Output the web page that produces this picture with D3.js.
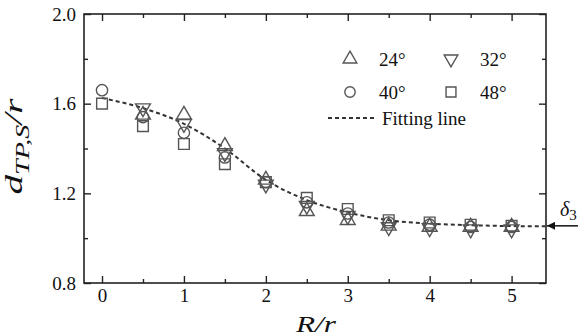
<!DOCTYPE html>
<html>
<head>
<meta charset="utf-8">
<script src="https://cdn.jsdelivr.net/npm/d3@7"></script>
<style>
  body { margin: 0; background: white; }
  text { font-family: "Liberation Serif", "Times New Roman", serif; fill: #111; }
</style>
</head>
<body>
<div id="chart"></div>
<script>
// R/r positions
let xs = [0, 0.5, 1, 1.5, 2, 2.5, 3, 3.5, 4, 4.5, 5];
// d_TP,S / r for each angle (null = no marker)
let s24 = [null, 1.55, 1.55, 1.41, 1.26, 1.12, 1.08, 1.055, 1.05, 1.05, 1.05];
let s32 = [null, 1.58, 1.51, 1.38, 1.24, 1.145, 1.10, 1.05, 1.045, 1.04, 1.04];
let s40 = [1.66, 1.54, 1.47, 1.36, 1.25, 1.16, 1.11, 1.07, 1.06, 1.05, 1.05];
let s48 = [1.60, 1.50, 1.42, 1.33, 1.25, 1.18, 1.13, 1.08, 1.07, 1.06, 1.055];
// fitting line
let fitX = [0, 0.5, 1, 1.5, 2, 2.5, 3, 3.5, 4, 4.5, 5, 5.42];
let fitY = [1.625, 1.58, 1.51, 1.40, 1.26, 1.17, 1.115, 1.08, 1.065, 1.058, 1.054, 1.053];
let delta3 = 1.055;

let xMajor = [0, 1, 2, 3, 4, 5];
let xMinor = [0.5, 1.5, 2.5, 3.5, 4.5];
let yMajor = [0.8, 1.2, 1.6, 2.0];
let yMinor = [1.0, 1.4, 1.8];

var margin = {top: 14, right: 32, bottom: 53, left: 84},
    width = 578 - margin.left - margin.right,
    height = 336 - margin.top - margin.bottom;

var svg = d3.select("#chart")
  .append("svg")
    .attr("width", 578)
    .attr("height", 336)
  .append("g")
    .attr("transform", "translate(" + margin.left + "," + margin.top + ")");

var x = d3.scaleLinear().domain([-0.22, 5.42]).range([0, width]);
var y = d3.scaleLinear().domain([0.8, 2.0]).range([height, 0]);

var axisColor = "#222";

// major + minor ticks on all four sides, pointing inward
function styleAxis(g) {
  g.select(".domain").remove();
  g.selectAll("line").attr("stroke", axisColor).attr("stroke-width", 1.4);
  g.selectAll("text").style("font-size", "19px").attr("fill", "#111");
}
svg.append("g").attr("transform", "translate(0," + height + ")")
  .call(d3.axisBottom(x).tickValues(xMajor).tickSize(-7).tickPadding(6).tickFormat(d3.format("d")))
  .call(styleAxis);
svg.append("g").attr("transform", "translate(0," + height + ")")
  .call(d3.axisBottom(x).tickValues(xMinor).tickSize(-4).tickFormat(""))
  .call(styleAxis);
svg.append("g")
  .call(d3.axisTop(x).tickValues(xMajor).tickSize(-7).tickFormat(""))
  .call(styleAxis);
svg.append("g")
  .call(d3.axisTop(x).tickValues(xMinor).tickSize(-4).tickFormat(""))
  .call(styleAxis);
svg.append("g")
  .call(d3.axisLeft(y).tickValues(yMajor).tickSize(-7).tickPadding(8).tickFormat(d3.format(".1f")))
  .call(styleAxis);
svg.append("g")
  .call(d3.axisLeft(y).tickValues(yMinor).tickSize(-4).tickFormat(""))
  .call(styleAxis);
svg.append("g").attr("transform", "translate(" + width + ",0)")
  .call(d3.axisRight(y).tickValues(yMajor).tickSize(-7).tickFormat(""))
  .call(styleAxis);
svg.append("g").attr("transform", "translate(" + width + ",0)")
  .call(d3.axisRight(y).tickValues(yMinor).tickSize(-4).tickFormat(""))
  .call(styleAxis);

svg.append("rect")
  .attr("width", width).attr("height", height)
  .attr("fill", "none").attr("stroke", axisColor).attr("stroke-width", 1.6);

// fitting line
var fitData = fitX.map(function(d, i) { return [d, fitY[i]]; });
svg.append("path")
  .datum(fitData)
  .attr("fill", "none")
  .attr("stroke", "#333")
  .attr("stroke-width", 2)
  .attr("stroke-dasharray", "4,3")
  .attr("d", d3.line()
    .x(function(d) { return x(d[0]); })
    .y(function(d) { return y(d[1]); })
    .curve(d3.curveMonotoneX));

// markers
var markColor = "#555";
var series = [
  {name: "24°", vals: s24, type: d3.symbolTriangle, size: 95, rot: 0},
  {name: "32°", vals: s32, type: d3.symbolTriangle, size: 95, rot: 180},
  {name: "40°", vals: s40, type: d3.symbolCircle, size: 100, rot: 0},
  {name: "48°", vals: s48, type: d3.symbolSquare, size: 115, rot: 0}
];
series.forEach(function(s) {
  var pts = xs.map(function(d, i) { return {x: d, v: s.vals[i]}; })
    .filter(function(d) { return d.v != null; });
  svg.selectAll(null)
    .data(pts)
    .enter()
    .append("path")
      .attr("d", d3.symbol().type(s.type).size(s.size))
      .attr("transform", function(d) {
        return "translate(" + x(d.x) + "," + y(d.v) + ") rotate(" + s.rot + ")";
      })
      .attr("fill", "none")
      .attr("stroke", markColor)
      .attr("stroke-width", 1.4);
});

// legend
var legPos = [[266, 45], [367, 45], [266, 78], [367, 78]];
series.forEach(function(s, i) {
  var g = svg.append("g").attr("transform", "translate(" + legPos[i][0] + "," + legPos[i][1] + ")");
  g.append("path")
    .attr("d", d3.symbol().type(s.type).size(s.size * 0.85))
    .attr("transform", "rotate(" + s.rot + ")")
    .attr("fill", "none").attr("stroke", markColor).attr("stroke-width", 1.4);
  g.append("text").attr("x", 29).attr("y", 6.5).style("font-size", "19px").text(s.name);
});
svg.append("line")
  .attr("x1", 244).attr("x2", 293).attr("y1", 104).attr("y2", 104)
  .attr("stroke", "#333").attr("stroke-width", 2).attr("stroke-dasharray", "4,3");
svg.append("text").attr("x", 298).attr("y", 111).style("font-size", "19px").text("Fitting line");

// delta_3 arrow
var defs = d3.select("svg").append("defs");
defs.append("marker")
  .attr("id", "arr").attr("viewBox", "0 0 10 10").attr("refX", 10).attr("refY", 5)
  .attr("markerWidth", 17).attr("markerHeight", 8).attr("markerUnits", "userSpaceOnUse")
  .attr("orient", "auto")
  .append("path").attr("d", "M0,0 L10,5 L0,10 Z").attr("fill", "#111");
svg.append("line")
  .attr("x1", 578 - margin.left).attr("x2", width + 1)
  .attr("y1", y(delta3)).attr("y2", y(delta3))
  .attr("stroke", "#111").attr("stroke-width", 1.5)
  .attr("marker-end", "url(#arr)");
var dl = svg.append("text").attr("x", width + 14).attr("y", y(delta3) - 10)
  .style("font-size", "20px").style("font-style", "italic");
dl.append("tspan").text("δ");
dl.append("tspan").attr("dy", 4).style("font-size", "15px").style("font-style", "normal").text("3");

// axis titles
var xl = svg.append("text")
  .attr("x", width / 2 + 1).attr("y", height + 49)
  .attr("text-anchor", "middle")
  .style("font-size", "24px").style("font-style", "italic")
  .attr("textLength", 40).attr("lengthAdjust", "spacingAndGlyphs")
  .text("R/r");

var yl = svg.append("text")
  .attr("transform", "translate(" + (22 - margin.left) + "," + (height / 2 - 2) + ") rotate(-90)")
  .attr("text-anchor", "middle")
  .attr("textLength", 96).attr("lengthAdjust", "spacingAndGlyphs")
  .style("font-size", "25px").style("font-style", "italic");
yl.append("tspan").text("d");
yl.append("tspan").attr("dy", 7).style("font-size", "18px").text("TP,S");
yl.append("tspan").attr("dy", -7).text("/r");
</script>
</body>
</html>
